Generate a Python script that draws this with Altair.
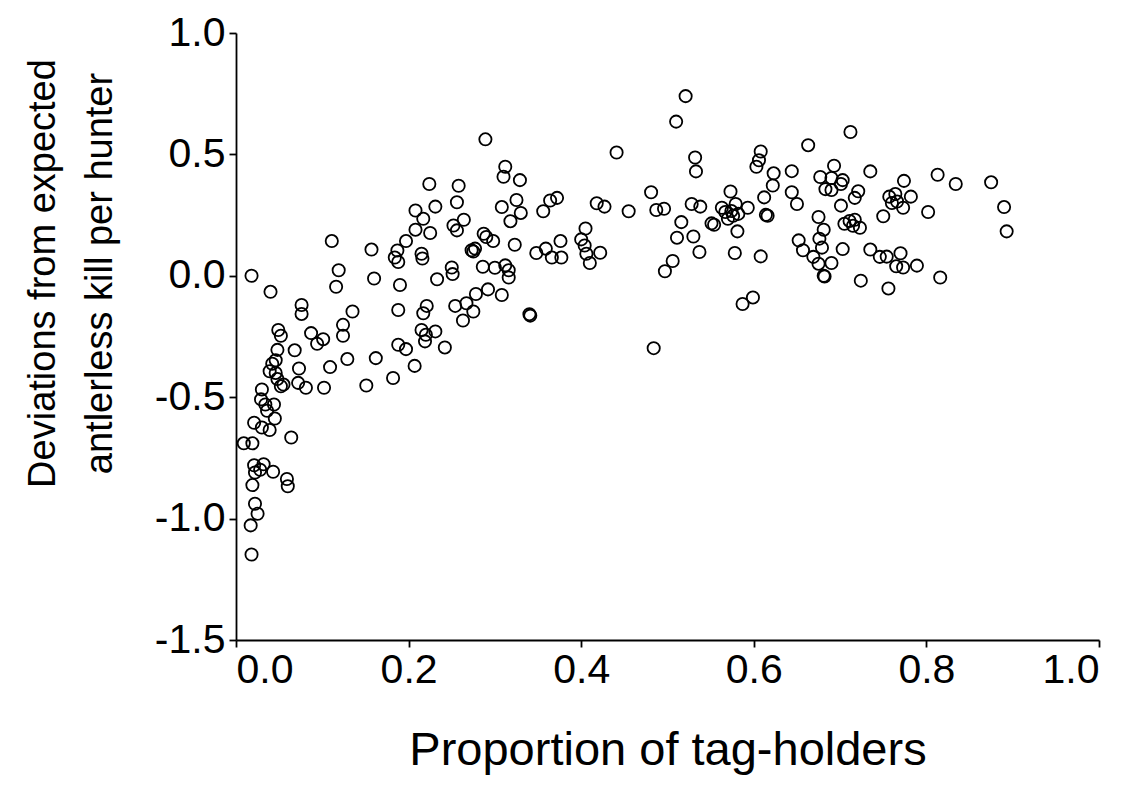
import altair as alt
import pandas as pd

xs = [
    0.018, 0.040, 0.076, 0.076, 0.049, 0.052, 0.048, 0.068, 0.046, 0.042,
    0.039, 0.046, 0.048, 0.055, 0.052, 0.073, 0.072, 0.081, 0.030, 0.029,
    0.034, 0.044, 0.036, 0.045, 0.021, 0.030, 0.039, 0.064, 0.009, 0.019,
    0.021, 0.022, 0.032, 0.028, 0.043, 0.019, 0.059, 0.060, 0.022, 0.025,
    0.017, 0.018,
    0.111, 0.157, 0.119, 0.116, 0.160, 0.190, 0.135, 0.188, 0.124, 0.124,
    0.087, 0.101, 0.094, 0.129, 0.109, 0.102, 0.151, 0.162, 0.182, 0.207,
    0.242, 0.188, 0.197, 0.215, 0.220, 0.219, 0.231, 0.221, 0.217, 0.233,
    0.224, 0.231, 0.208, 0.217, 0.208, 0.225, 0.197, 0.187, 0.184, 0.188,
    0.215, 0.216, 0.250, 0.251, 0.254, 0.267, 0.275, 0.263, 0.278, 0.292,
    0.308, 0.340, 0.341, 0.289, 0.312, 0.310, 0.329, 0.258, 0.256, 0.308,
    0.325, 0.330, 0.318, 0.356, 0.364, 0.372, 0.252, 0.256, 0.264, 0.287,
    0.290, 0.298, 0.323, 0.273, 0.275, 0.277, 0.348, 0.359, 0.366, 0.376,
    0.377, 0.286, 0.300, 0.312, 0.316, 0.316,
    0.405, 0.400, 0.404, 0.406, 0.410, 0.422,
    0.441, 0.532, 0.533, 0.481, 0.418, 0.427, 0.455, 0.487, 0.496, 0.528,
    0.538, 0.516, 0.511, 0.530, 0.537, 0.506, 0.497, 0.484,
    0.521, 0.510,
    0.573, 0.579, 0.593, 0.563, 0.567, 0.574, 0.576, 0.570, 0.582, 0.551,
    0.554,
    0.663, 0.608, 0.606, 0.603, 0.623, 0.622, 0.644, 0.712, 0.693, 0.677,
    0.690, 0.703, 0.701, 0.683, 0.690, 0.735, 0.644, 0.650, 0.612, 0.721,
    0.717, 0.701, 0.614, 0.616, 0.675, 0.705, 0.711, 0.717, 0.715, 0.723,
    0.581, 0.681, 0.652, 0.657, 0.676, 0.679, 0.703, 0.578, 0.608, 0.669,
    0.675, 0.690, 0.681, 0.682, 0.724, 0.599, 0.587,
    0.813, 0.834, 0.774, 0.757, 0.764, 0.766, 0.773, 0.782, 0.760, 0.750,
    0.802, 0.735, 0.746, 0.754, 0.770, 0.765, 0.773, 0.789, 0.756, 0.816,
    0.875, 0.890, 0.893,
]

ys = [
    0.000, -0.066, -0.120, -0.157, -0.223, -0.247, -0.305, -0.307, -0.348, -0.362,
    -0.393, -0.400, -0.425, -0.448, -0.455, -0.382, -0.441, -0.461, -0.468, -0.509,
    -0.530, -0.530, -0.556, -0.588, -0.605, -0.625, -0.635, -0.666, -0.690, -0.690,
    -0.780, -0.810, -0.776, -0.799, -0.807, -0.862, -0.837, -0.867, -0.939, -0.980,
    -1.028, -1.148,
    0.143, 0.108, 0.023, -0.045, -0.011, -0.038, -0.147, -0.141, -0.202, -0.247,
    -0.236, -0.261, -0.280, -0.343, -0.376, -0.461, -0.452, -0.339, -0.421, -0.371,
    -0.295, -0.284, -0.302, -0.223, -0.243, -0.270, -0.229, -0.124, -0.154, -0.014,
    0.378, 0.285, 0.269, 0.235, 0.190, 0.176, 0.143, 0.104, 0.075, 0.057,
    0.091, 0.071, 0.034, 0.007, -0.124, -0.113, -0.147, -0.184, -0.075, -0.056,
    -0.079, -0.158, -0.164, 0.562, 0.449, 0.408, 0.394, 0.371, 0.303, 0.283,
    0.312, 0.259, 0.225, 0.266, 0.310, 0.321, 0.207, 0.187, 0.231, 0.173,
    0.160, 0.143, 0.128, 0.105, 0.100, 0.112, 0.094, 0.112, 0.075, 0.143,
    0.075, 0.037, 0.033, 0.043, 0.023, -0.007,
    0.195, 0.150, 0.125, 0.091, 0.053, 0.095,
    0.508, 0.487, 0.430, 0.344, 0.299, 0.285, 0.266, 0.271, 0.276, 0.296,
    0.285, 0.221, 0.157, 0.162, 0.098, 0.061, 0.019, -0.298,
    0.740, 0.635,
    0.347, 0.296, 0.280, 0.280, 0.263, 0.267, 0.247, 0.235, 0.255, 0.216,
    0.210,
    0.538, 0.512, 0.476, 0.449, 0.422, 0.372, 0.431, 0.592, 0.453, 0.407,
    0.403, 0.394, 0.378, 0.357, 0.353, 0.430, 0.344, 0.296, 0.323, 0.348,
    0.321, 0.289, 0.251, 0.247, 0.242, 0.214, 0.226, 0.231, 0.206, 0.198,
    0.183, 0.190, 0.146, 0.105, 0.153, 0.116, 0.110, 0.094, 0.080, 0.078,
    0.050, 0.053, 0.000, -0.003, -0.020, -0.089, -0.116,
    0.416, 0.378, 0.391, 0.326, 0.337, 0.306, 0.280, 0.326, 0.300, 0.245,
    0.263, 0.108, 0.078, 0.079, 0.093, 0.039, 0.034, 0.042, -0.052, -0.007,
    0.385, 0.283, 0.183,
]

x_ticks = [0.0, 0.2, 0.4, 0.6, 0.8, 1.0]
y_ticks = [-1.5, -1.0, -0.5, 0.0, 0.5, 1.0]

df = pd.DataFrame({"p": xs, "dev": ys})

FONT = "Liberation Sans"

chart = (
    alt.Chart(df)
    .mark_point(shape="circle", filled=False, size=150, strokeWidth=1.8, color="black", opacity=1)
    .encode(
        x=alt.X(
            "p:Q",
            scale=alt.Scale(domain=[0, 1], nice=False, zero=False),
            axis=alt.Axis(
                values=x_ticks,
                format=".1f",
                title="Proportion of tag-holders",
                titleFontSize=47,
                titleFont=FONT,
                titleFontWeight="normal",
                titleColor="black",
                titleY=124,
                titleBaseline="alphabetic",
                labelFontSize=41,
                labelFont=FONT,
                labelColor="black",
                labelPadding=3,
                tickSize=7,
                tickWidth=1.8,
                tickColor="black",
                domainColor="black",
                domainWidth=1.8,
                grid=False,
            ),
        ),
        y=alt.Y(
            "dev:Q",
            scale=alt.Scale(domain=[-1.5, 1.0], nice=False, zero=False),
            axis=alt.Axis(
                values=y_ticks,
                labelExpr="(datum.value < 0 ? '-' : '') + format(abs(datum.value), '.1f')",
                title=["Deviations from expected", "antlerless kill per hunter"],
                titleFontSize=38,
                titleFont=FONT,
                titleFontWeight="normal",
                titleColor="black",
                titleAngle=270,
                titleX=-193,
                titleY=240,
                titleAlign="center",
                titleBaseline="middle",
                titleLineHeight=57,
                labelFontSize=41,
                labelFont=FONT,
                labelColor="black",
                labelPadding=4,
                tickSize=7,
                tickWidth=1.8,
                tickColor="black",
                domainColor="black",
                domainWidth=1.8,
                grid=False,
            ),
        ),
    )
    .properties(
        width=863,
        height=607,
        autosize=alt.AutoSizeParams(type="none"),
        padding={"left": 228, "top": 25, "right": 30, "bottom": 143},
    )
    .configure(background="white")
    .configure_view(stroke=None, strokeWidth=0)
)

chart.save("out.html", embed_options={"renderer": "svg", "actions": False})
